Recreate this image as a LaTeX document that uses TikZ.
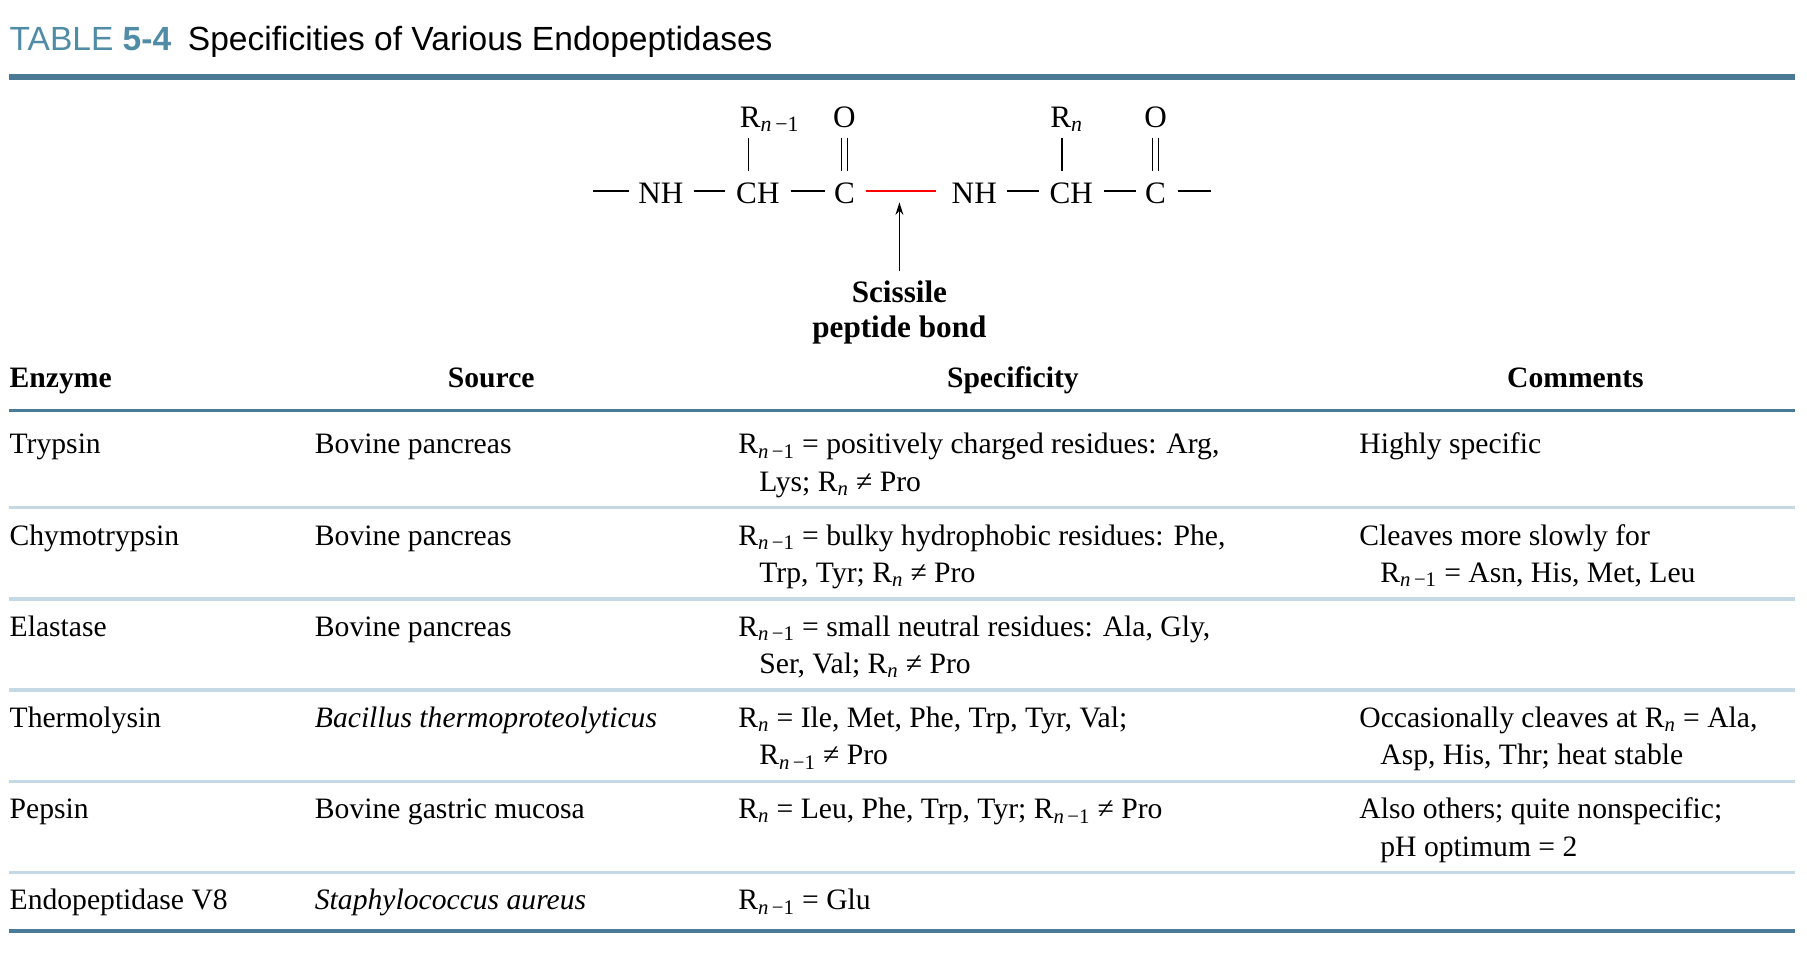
\documentclass[tikz,border=0pt]{standalone}
\usepackage{fontspec}
\usetikzlibrary{arrows.meta}
\setmainfont{Liberation Serif}
\newfontfamily\hdsans{Liberation Sans}
\definecolor{rulec}{RGB}{74,122,149}
\definecolor{thinc}{RGB}{197,217,228}
\definecolor{ttl}{RGB}{80,140,165}
\newcommand{\Rm}{R\textsubscript{\textit{n}\,−1}}
\newcommand{\Rnn}{R\textsubscript{\textit{n}}}
\begin{document}
\begin{tikzpicture}[x=0.75pt,y=-0.75pt,
  t/.style={anchor=base west,inner sep=0,font=\fontsize{19}{22}\selectfont},
  h/.style={anchor=base,inner sep=0,font=\fontsize{19}{22}\selectfont\bfseries},
  c/.style={inner sep=0,font=\fontsize{20}{22}\selectfont},
  bond/.style={line width=1.1pt}]
\useasboundingbox (0,0) rectangle (1545,815);
\node[anchor=base west,inner sep=0,font=\hdsans\fontsize{21.5}{22}\selectfont] (title) at (8,43) {\textcolor{ttl}{TABLE \textbf{5-4}}\enspace Specificities of Various Endopeptidases};
\draw[rulec,line width=3.5pt] (8,66) -- (1535,66);
% structure
\node[c] (nh1) at (565,165) {NH};
\node[c] (ch1) at (648,165) {CH};
\node[c] (c1) at (722,165) {C};
\node[c] (nh2) at (833,165) {NH};
\node[c] (ch2) at (916,165) {CH};
\node[c] (c2) at (988,165) {C};
\node[c] (r1) at (658,102) {\Rm};
\node[c] (o1) at (722,100) {O};
\node[c] (r2) at (912,102) {\Rnn};
\node[c] (o2) at (988,100) {O};
\coordinate (l0) at (507,163); \coordinate (r0) at (1035,163);
\draw[bond] (l0) -- ++(31,0);
\draw[bond] (593,163) -- (620,163);
\draw[bond] (676,163) -- (705,163);
\draw[red,bond] (740,163) -- (800,163);
\draw[bond] (861,163) -- (888,163);
\draw[bond] (944,163) -- (971,163);
\draw[bond] (1007,163) -- (r0);
\draw[bond] (640,118) -- (640,146);
\draw[bond] (908,118) -- (908,146);
\draw[bond] (719.5,118) -- (719.5,146) (724.5,118) -- (724.5,146);
\draw[bond] (985.5,118) -- (985.5,146) (990.5,118) -- (990.5,146);
\node[inner sep=0,align=center,font=\fontsize{20}{22.5}\selectfont\bfseries] (sc) at (769,267) {Scissile\\peptide bond};
\coordinate (tip) at (769,173);
\draw[bond,-{Stealth[length=8pt,width=5pt]}] (769,232) -- (tip);
% header
\node[h,anchor=base west] (hE) at (8,331) {Enzyme};
\node[h] (hS) at (420,331) {Source};
\node[h] (hP) at (866,331) {Specificity};
\node[h] (hC) at (1347,331) {Comments};
\draw[rulec,line width=2.5pt] (8,351) -- (1535,351);
\foreach \y in {434,512,590,668,746} \draw[thinc,line width=2.2pt] (8,\y) -- (1535,\y);
\draw[rulec,line width=3pt] (8,796) -- (1535,796);
% rows
\node[t] (e1) at (8,388) {Trypsin};
\node[t] (s1) at (269,388) {Bovine pancreas};
\node[t] (p1) at (631,388) {\Rm\ = positively charged residues: Arg,};
\node[t] (p1b) at (649,420) {Lys; \Rnn\ ≠ Pro};
\node[t] (m1) at (1162,388) {Highly specific};
\node[t] (e2) at (8,466) {Chymotrypsin};
\node[t] (s2) at (269,466) {Bovine pancreas};
\node[t] (p2) at (631,466) {\Rm\ = bulky hydrophobic residues: Phe,};
\node[t] (p2b) at (649,498) {Trp, Tyr; \Rnn\ ≠ Pro};
\node[t] (m2) at (1162,466) {Cleaves more slowly for};
\node[t] (m2b) at (1180,498) {\Rm\ = Asn, His, Met, Leu};
\node[t] (e3) at (8,544) {Elastase};
\node[t] (s3) at (269,544) {Bovine pancreas};
\node[t] (p3) at (631,544) {\Rm\ = small neutral residues: Ala, Gly,};
\node[t] (p3b) at (649,576) {Ser, Val; \Rnn\ ≠ Pro};
\node[t] (e4) at (8,622) {Thermolysin};
\node[t] (s4) at (269,622) {\textit{Bacillus thermoproteolyticus}};
\node[t] (p4) at (631,622) {\Rnn\ = Ile, Met, Phe, Trp, Tyr, Val;};
\node[t] (p4b) at (649,654) {\Rm\ ≠ Pro};
\node[t] (m4) at (1162,622) {Occasionally cleaves at \Rnn\ = Ala,};
\node[t] (m4b) at (1180,654) {Asp, His, Thr; heat stable};
\node[t] (e5) at (8,700) {Pepsin};
\node[t] (s5) at (269,700) {Bovine gastric mucosa};
\node[t] (p5) at (631,700) {\Rnn\ = Leu, Phe, Trp, Tyr; \Rm\ ≠ Pro};
\node[t] (m5) at (1162,700) {Also others; quite nonspecific;};
\node[t] (m5b) at (1180,732) {pH optimum = 2};
\node[t] (e6) at (8,778) {Endopeptidase V8};
\node[t] (s6) at (269,778) {\textit{Staphylococcus aureus}};
\node[t] (p6) at (631,778) {\Rm\ = Glu};
\end{tikzpicture}
\end{document}
